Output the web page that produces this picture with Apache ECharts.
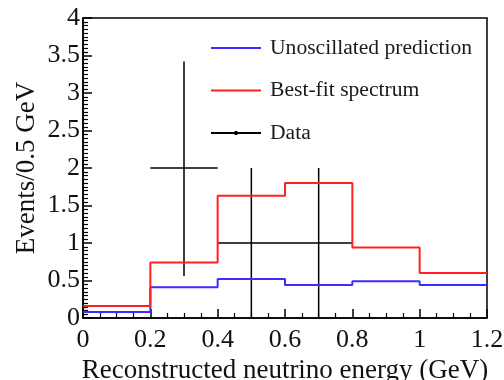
<!DOCTYPE html>
<html>
<head>
<meta charset="utf-8">
<script src="https://cdn.jsdelivr.net/npm/echarts@6/dist/echarts.min.js"></script>
<style>html,body{margin:0;padding:0;background:#fff}#c{width:504px;height:380px}</style>
</head>
<body>
<div id="c"></div>
<script>
// Bin edges (GeV)
var binEdges = [0, 0.2, 0.4, 0.6, 0.8, 1.0, 1.2];
// Histogram contents per bin
var unoscillated = [0.08, 0.41, 0.52, 0.44, 0.49, 0.44];
var bestFit = [0.16, 0.74, 1.63, 1.80, 0.94, 0.60];
// Data points
var dataX = [0.3, 0.5, 0.7];
var dataY = [2, 1, 1];
var dataXLow = [0.2, 0.4, 0.6];
var dataXHigh = [0.4, 0.6, 0.8];
var dataYLow = [0.56, 0, 0];
var dataYHigh = [3.42, 2.0, 2.0];
// Tick labels
var xTicks = ['0', '0.2', '0.4', '0.6', '0.8', '1', '1.2'];
var yTicks = ['0', '0.5', '1', '1.5', '2', '2.5', '3', '3.5', '4'];

function stepData(vals) {
  var out = [];
  for (var i = 0; i < vals.length; i++) out.push([binEdges[i], vals[i]]);
  out.push([binEdges[binEdges.length - 1], vals[vals.length - 1]]);
  return out;
}
var errData = dataX.map(function (x, i) {
  return [x, dataY[i], dataXLow[i], dataXHigh[i], dataYLow[i], dataYHigh[i]];
});

var FONT = 'Liberation Serif';
var chart = echarts.init(document.getElementById('c'));
chart.setOption({
  animation: false,
  backgroundColor: '#fff',
  grid: { left: 83, right: 17, top: 18, bottom: 62, outerBoundsMode: 'none', containLabel: false, show: true, borderColor: '#000', borderWidth: 1.5, backgroundColor: 'transparent' },
  legend: {
    orient: 'vertical', left: 206, top: 32, itemWidth: 50, itemHeight: 14, itemGap: 20.5,
    textStyle: { fontFamily: FONT, fontSize: 21.6, color: '#1a1a1a', padding: [0, 0, 0, 4] },
    data: [
      { name: 'Unoscillated prediction', icon: 'path://M0,0H50V2H0Z', itemStyle: { color: '#3f2bff' } },
      { name: 'Best-fit spectrum', icon: 'path://M0,0H50V2H0Z', itemStyle: { color: '#ff2020' } },
      { name: 'Data', icon: 'path://M0,1H50V3H0Z M23.5,0H26.5V4H23.5Z', itemStyle: { color: '#000' } }
    ]
  },
  xAxis: {
    type: 'value', min: 0, max: 1.2, interval: 0.2,
    name: 'Reconstructed neutrino energy (GeV)', nameLocation: 'middle', nameGap: 39, nameMoveOverlap: false,
    nameTextStyle: { fontFamily: FONT, fontSize: 27, color: '#111' },
    axisLine: { show: true, lineStyle: { color: '#000', width: 1.5 } },
    axisTick: { show: true, inside: true, length: 9, lineStyle: { color: '#000', width: 1.5 } },
    minorTick: { show: true, splitNumber: 4, length: 5, lineStyle: { color: '#000', width: 1.2 } },
    splitLine: { show: false },
    axisLabel: {
      fontFamily: FONT, fontSize: 26, color: '#111', margin: 9,
      formatter: function (v) { var i = Math.round(v / 0.2); return xTicks[i] !== undefined ? xTicks[i] : ''; }
    }
  },
  yAxis: {
    type: 'value', min: 0, max: 4, interval: 0.5,
    name: 'Events/0.5 GeV', nameLocation: 'middle', nameGap: 43, nameMoveOverlap: false,
    nameTextStyle: { fontFamily: FONT, fontSize: 27, color: '#111' },
    axisLine: { show: true, lineStyle: { color: '#000', width: 1.5 } },
    axisTick: { show: true, inside: true, length: 9, lineStyle: { color: '#000', width: 1.5 } },
    minorTick: { show: true, splitNumber: 10, length: 5, lineStyle: { color: '#000', width: 1.2 } },
    splitLine: { show: false },
    axisLabel: {
      fontFamily: FONT, fontSize: 26, color: '#111', margin: 3,
      formatter: function (v) { var i = Math.round(v / 0.5); return yTicks[i] !== undefined ? yTicks[i] : ''; }
    }
  },
  series: [
    {
      name: 'Unoscillated prediction', type: 'line', step: 'end', symbol: 'none',
      data: stepData(unoscillated), lineStyle: { color: '#3f2bff', width: 2 }, itemStyle: { color: '#3f2bff' }
    },
    {
      name: 'Best-fit spectrum', type: 'line', step: 'end', symbol: 'none',
      data: stepData(bestFit), lineStyle: { color: '#ff2020', width: 2 }, itemStyle: { color: '#ff2020' }
    },
    {
      name: 'Data', type: 'custom', data: errData, itemStyle: { color: '#000' },
      encode: { x: [0, 2, 3], y: [1, 4, 5] },
      renderItem: function (params, api) {
        var x = api.value(0), y = api.value(1);
        var a = api.coord([api.value(2), y]), b = api.coord([api.value(3), y]);
        var c = api.coord([x, api.value(4)]), d = api.coord([x, api.value(5)]);
        var st = { stroke: '#000', lineWidth: 1.5 };
        return {
          type: 'group', children: [
            { type: 'line', shape: { x1: a[0], y1: a[1], x2: b[0], y2: b[1] }, style: st },
            { type: 'line', shape: { x1: c[0], y1: c[1], x2: d[0], y2: d[1] }, style: st }
          ]
        };
      }
    }
  ]
});
</script>
</body>
</html>
